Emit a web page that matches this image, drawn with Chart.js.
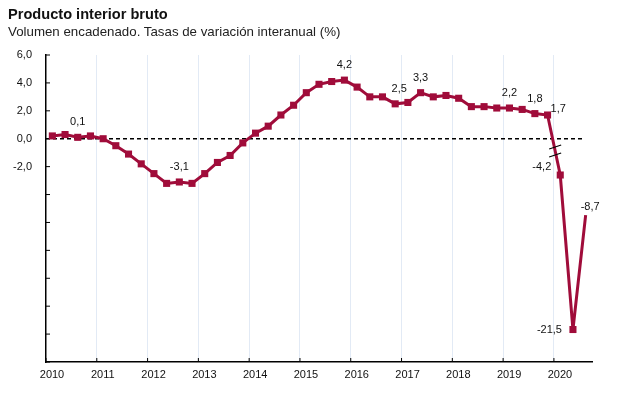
<!DOCTYPE html>
<html>
<head>
<meta charset="utf-8">
<script src="https://cdn.jsdelivr.net/npm/chart.js@4/dist/chart.umd.min.js"></script>
<style>
  body { margin: 0; background: #fff; font-family: "Liberation Sans", Arial, sans-serif; }
  #wrap { position: relative; width: 628px; height: 394px; }
  #title { position: absolute; left: 8px; top: 6px; font-size: 14.6px; font-weight: bold; color: #111; }
  #subtitle { position: absolute; left: 8px; top: 24px; font-size: 13.3px; color: #222; }
  canvas { position: absolute; left: 0; top: 0; }
</style>
</head>
<body>
<div id="wrap">
  <canvas id="gdp" width="628" height="394"></canvas>
  <div id="title">Producto interior bruto</div>
  <div id="subtitle">Volumen encadenado. Tasas de variación interanual (%)</div>
</div>
<script>
// Quarterly periods, 2010T1 .. 2020T3
const periods = [
  "2010T1", "2010T2", "2010T3", "2010T4",
  "2011T1", "2011T2", "2011T3", "2011T4",
  "2012T1", "2012T2", "2012T3", "2012T4",
  "2013T1", "2013T2", "2013T3", "2013T4",
  "2014T1", "2014T2", "2014T3", "2014T4",
  "2015T1", "2015T2", "2015T3", "2015T4",
  "2016T1", "2016T2", "2016T3", "2016T4",
  "2017T1", "2017T2", "2017T3", "2017T4",
  "2018T1", "2018T2", "2018T3", "2018T4",
  "2019T1", "2019T2", "2019T3", "2019T4",
  "2020T1", "2020T2", "2020T3",
];

// Year-on-year GDP growth (%)
const growth = [
  0.2, 0.3, 0.1, 0.2,
  0.0, -0.5, -1.1, -1.8,
  -2.5, -3.2, -3.1, -3.2,
  -2.5, -1.7, -1.2, -0.3,
  0.4, 0.9, 1.7, 2.4,
  3.3, 3.9, 4.1, 4.2,
  3.7, 3.0, 3.0, 2.5,
  2.6, 3.3, 3.0, 3.1,
  2.9, 2.3, 2.3, 2.2,
  2.2, 2.1, 1.8, 1.7,
  -4.2, -21.5, -8.7,
];

// periods that carry a value label
const labelled = ["2010T3", "2012T3", "2015T4", "2016T4", "2017T2",
  "2019T1", "2019T3", "2019T4", "2020T1", "2020T2", "2020T3"];

const yearTicks = [2010, 2011, 2012, 2013, 2014, 2015, 2016, 2017, 2018, 2019, 2020];
const yLabelled = [6, 4, 2, 0, -2];

// Axis is broken below -4: the 2020 collapse is drawn compressed.
const BREAK_AT = -4;
const BREAK_VAL = -4.2;
const BREAK_POS = -2.6;
const BREAK_SCALE = 0.64;
function toAxis(v) {
  return v > BREAK_AT ? v : BREAK_POS + (v - BREAK_VAL) * BREAK_SCALE;
}

// "2012T3" -> 2012.625 (middle of the quarter)
function periodToX(p) {
  const year = Number(p.slice(0, 4));
  const q = Number(p.slice(5));
  return year + (q - 0.5) / 4;
}

const fmt = (v) => v.toFixed(1).replace(".", ",");
const RED = "#a00c3a";
const FONT = "'Liberation Sans', Arial, sans-serif";

// where each value label sits relative to its point
function labelPlacement(p) {
  if (p === "2019T4") return { dx: 3, dy: -6, align: "left" };
  if (p === "2020T1") return { dx: -9, dy: -8, align: "right" };
  if (p === "2020T2") return { dx: -11, dy: 0, align: "right" };
  if (p === "2020T3") return { dx: -5, dy: -8, align: "left" };
  if (p === "2016T4") return { dx: 4, dy: -15, align: "center" };
  return { dx: 0, dy: -15, align: "center" };
}

const decorations = {
  id: "decorations",
  beforeDatasetsDraw(chart) {
    const { ctx, chartArea, scales } = chart;
    const y0 = scales.y.getPixelForValue(0);
    ctx.save();
    ctx.strokeStyle = "#000";
    ctx.lineWidth = 1.5;
    ctx.setLineDash([4, 3]);
    ctx.beginPath();
    ctx.moveTo(chartArea.left, y0);
    ctx.lineTo(scales.x.getPixelForValue(2020.6), y0);
    ctx.stroke();
    ctx.setLineDash([]);
    ctx.lineWidth = 1;
    // inward tick marks
    ctx.beginPath();
    scales.y.ticks.forEach((t) => {
      const y = scales.y.getPixelForValue(t.value);
      ctx.moveTo(chartArea.left, y);
      ctx.lineTo(chartArea.left + 4, y);
    });
    scales.x.ticks.forEach((t) => {
      const x = scales.x.getPixelForValue(t.value);
      ctx.moveTo(x, chartArea.bottom);
      ctx.lineTo(x, chartArea.bottom - 4);
    });
    ctx.stroke();
    ctx.restore();
  },
  afterDatasetsDraw(chart) {
    const { ctx } = chart;
    const pts = chart.getDatasetMeta(0).data;
    ctx.save();
    // break marks between 2019T4 and 2020T1
    const a = pts[periods.indexOf("2019T4")];
    const b = pts[periods.indexOf("2020T1")];
    const t = 0.6;
    const cx = a.x + (b.x - a.x) * t;
    const cy = a.y + (b.y - a.y) * t;
    ctx.strokeStyle = "#000";
    ctx.lineWidth = 1.2;
    ctx.beginPath();
    [-4, 4].forEach((off) => {
      ctx.moveTo(cx - 6, cy + off + 2);
      ctx.lineTo(cx + 6, cy + off - 2);
    });
    ctx.stroke();

    // value labels
    ctx.fillStyle = "#111";
    ctx.font = "11px " + FONT;
    ctx.textBaseline = "middle";
    labelled.forEach((p) => {
      const i = periods.indexOf(p);
      const pt = pts[i];
      const pl = labelPlacement(p);
      ctx.textAlign = pl.align;
      ctx.fillText(fmt(growth[i]), pt.x + pl.dx, pt.y + pl.dy);
    });
    ctx.restore();
  },
};

const lastIndex = growth.length - 1;

new Chart(document.getElementById("gdp"), {
  type: "line",
  data: {
    datasets: [{
      data: periods.map((p, i) => ({ x: periodToX(p), y: toAxis(growth[i]) })),
      borderColor: RED,
      backgroundColor: RED,
      borderWidth: 3,
      tension: 0,
      pointStyle: "rect",
      pointRadius: (c) => (c.dataIndex === lastIndex ? 0 : 5),
      pointBorderWidth: 0,
      pointHoverRadius: 5,
    }],
  },
  options: {
    responsive: false,
    animation: false,
    layout: { padding: { top: 55, right: 36, left: 0, bottom: 0 } },
    plugins: { legend: { display: false }, tooltip: { enabled: false } },
    scales: {
      x: {
        type: "linear",
        min: 2010,
        max: 2020.75,
        afterFit: (s) => { s.height = 32; },
        afterBuildTicks: (s) => { s.ticks = yearTicks.map((v) => ({ value: v })); },
        ticks: {
          includeBounds: false,
          autoSkip: false,
          maxRotation: 0,
          padding: 6,
          labelOffset: 6,
          color: "#111",
          font: { family: FONT, size: 11 },
          callback: (v) => String(v),
        },
        grid: {
          drawTicks: false,
          color: (c) => (c.tick && c.tick.value === 2010 ? "rgba(0,0,0,0)" : "#e2eaf5"),
          lineWidth: 1,
        },
        border: { color: "#000", width: 1.5 },
      },
      y: {
        min: -16,
        max: 6,
        afterFit: (s) => { s.width = 46; },
        ticks: {
          stepSize: 2,
          padding: 14,
          color: "#111",
          font: { family: FONT, size: 11 },
          callback: (v) => (yLabelled.includes(v) ? fmt(v) : ""),
        },
        grid: { drawOnChartArea: false, drawTicks: false },
        border: { color: "#000", width: 1.5 },
      },
    },
  },
  plugins: [decorations],
});
</script>
</body>
</html>
